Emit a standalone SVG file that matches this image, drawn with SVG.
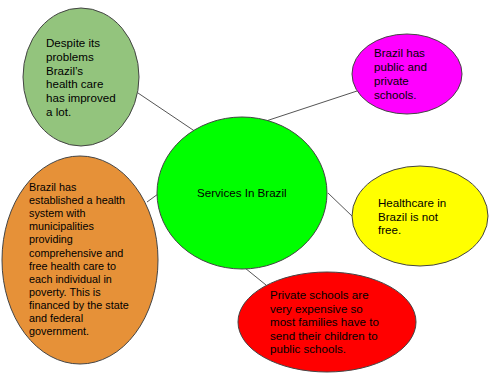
<svg xmlns="http://www.w3.org/2000/svg" width="500" height="375" viewBox="0 0 500 375">
<style>
.n{stroke:#444;stroke-width:1}
.t{font-family:"Liberation Sans",Arial,sans-serif;font-size:11.6px;fill:#000}
.s{font-size:10.8px}
.c line{stroke:#555;stroke-width:1}
</style>
<rect width="500" height="375" fill="#fff"/>
<g class="c" id="connectors">
<line x1="138" y1="93" x2="196" y2="132"/>
<line x1="357" y1="91" x2="266" y2="121"/>
<line x1="147" y1="202" x2="158" y2="194"/>
<line x1="328" y1="193" x2="353" y2="217"/>
<line x1="245" y1="268" x2="266" y2="285"/>
</g>
<g id="center">
<ellipse class="n" cx="242" cy="193" rx="85" ry="76" fill="#00ff00"/>
<text class="t" x="197" y="197">Services In Brazil</text>
</g>
<g id="green">
<ellipse class="n" cx="81" cy="77" rx="58" ry="69" fill="#93c47d"/>
<text class="t"><tspan x="46" y="47">Despite its</tspan><tspan x="46" y="61">problems</tspan><tspan x="46" y="74.5">Brazil’s</tspan><tspan x="46" y="88">health care</tspan><tspan x="46" y="102">has improved</tspan><tspan x="46" y="116">a lot.</tspan></text>
</g>
<g id="magenta">
<ellipse class="n" cx="407" cy="74" rx="55" ry="40" fill="#ff00ff"/>
<text class="t"><tspan x="374" y="57">Brazil has</tspan><tspan x="374" y="71">public and</tspan><tspan x="374" y="85">private</tspan><tspan x="374" y="99">schools.</tspan></text>
</g>
<g id="orange">
<ellipse class="n" cx="80" cy="260" rx="78" ry="104" fill="#e69138"/>
<text class="t s"><tspan x="29" y="191">Brazil has</tspan><tspan x="29" y="204">established a health</tspan><tspan x="29" y="217">system with</tspan><tspan x="29" y="230">municipalities</tspan><tspan x="29" y="243">providing</tspan><tspan x="29" y="256.5">comprehensive and</tspan><tspan x="29" y="269.5">free health care to</tspan><tspan x="29" y="283">each individual in</tspan><tspan x="29" y="296">poverty. This is</tspan><tspan x="29" y="309">financed by the state</tspan><tspan x="29" y="322">and federal</tspan><tspan x="29" y="335">government.</tspan></text>
</g>
<g id="yellow">
<ellipse class="n" cx="420" cy="216" rx="68" ry="50" fill="#ffff00"/>
<text class="t"><tspan x="378" y="207">Healthcare in</tspan><tspan x="378" y="221">Brazil is not</tspan><tspan x="378" y="234">free.</tspan></text>
</g>
<g id="red">
<ellipse class="n" cx="327" cy="322" rx="89" ry="50" fill="#ff0000"/>
<text class="t"><tspan x="270" y="299">Private schools are</tspan><tspan x="270" y="312.5">very expensive so</tspan><tspan x="270" y="326">most families have to</tspan><tspan x="270" y="339.5">send their children to</tspan><tspan x="270" y="353">public schools.</tspan></text>
</g>
</svg>
